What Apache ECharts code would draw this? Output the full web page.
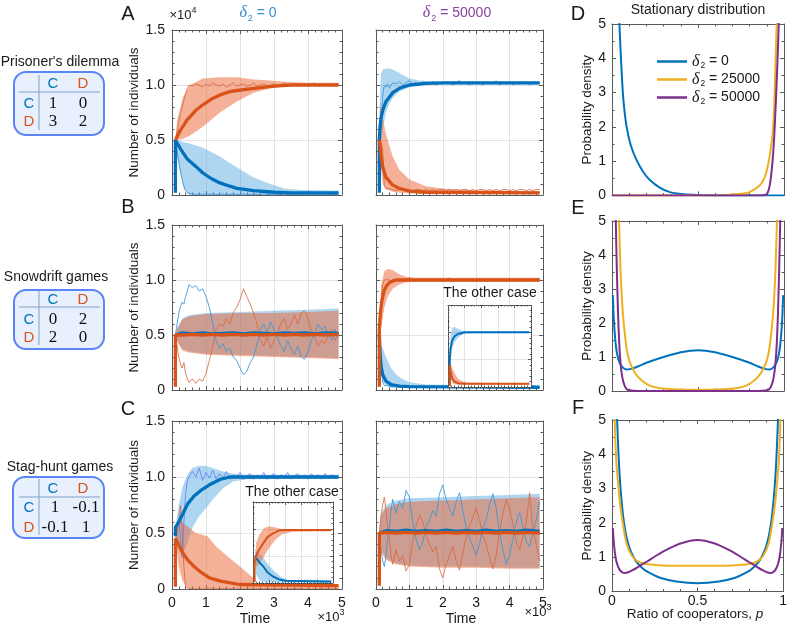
<!DOCTYPE html>
<html>
<head>
<meta charset="utf-8">
<script src="https://cdn.jsdelivr.net/npm/echarts@6/dist/echarts.min.js"></script>
<style>
  html, body { margin: 0; padding: 0; background: #fff; }
  #chart { width: 790px; height: 631px; }
</style>
</head>
<body>
<div id="chart"></div>
<script>
// ---- data (time in units of 10^3, counts in units of 10^4) ----
const runT = [0.1,0.15,0.2,0.25,0.3,0.35,0.4,0.45,0.5,
  0.6,0.7,0.8,0.9,1.0,1.1,1.2,1.3,1.4,1.5,1.6,
  1.7,1.8,1.9,2.0,2.1,2.2,2.3,2.4,2.5,2.6,2.7,
  2.8,2.9,3.0,3.1,3.2,3.3,3.4,3.5,3.6,3.7,3.8,
  3.9,4.0,4.1,4.2,4.3,4.4,4.5,4.6,4.7,4.8,4.9];

// A: prisoner's dilemma, delta2 = 0
const aCoopMean = [[0.1,0.02],[0.1,0.5],[0.25,0.42],[0.44,0.33],[0.7,0.26],[0.91,0.2],[1.15,0.15],[1.41,0.11],[1.7,0.08],[1.91,0.06],[2.4,0.04],[3.0,0.025],[3.5,0.02],[4.9,0.02]];
const aDefMean = [[0.1,0.5],[0.25,0.59],[0.44,0.68],[0.7,0.77],[0.91,0.82],[1.15,0.87],[1.41,0.91],[1.7,0.94],[1.91,0.95],[2.4,0.97],[3.0,0.99],[3.5,1.0],[4.9,1.0]];
const aCoopBand = [[0.1,0.5,0.5],[0.15,0.35,0.5],[0.25,0.18,0.49],[0.35,0.06,0.48],[0.5,0,0.47],[0.91,0,0.43],[1.41,0,0.35],[1.91,0,0.25],[2.4,0,0.16],[2.9,0,0.1],[3.3,0,0.06],[3.8,0,0.045],[4.9,0,0.04]];
const aDefBand = [[0.1,0.5,0.5],[0.15,0.5,0.68],[0.32,0.51,0.89],[0.53,0.54,1.0],[0.91,0.62,1.06],[1.41,0.75,1.07],[1.91,0.85,1.07],[2.4,0.93,1.05],[2.9,0.97,1.04],[3.3,0.99,1.03],[4.0,0.99,1.02],[4.9,0.99,1.02]];
const aCoopRun = [0.5,0.4,0.3,0.22,0.14,0.08,0.04,0.02,0.01,
  0.01,0.005,0.01,0.005,0.01,0.005,0.01,0.005,0.005,0.01,0.005,
  0.005,0.01,0.005,0.005,0.01,0.005,0.005,0.01,0.005,0.005,0.01,
  0.005,0.005,0.01,0.005,0.005,0.01,0.005,0.005,0.01,0.005,0.005,
  0.01,0.005,0.005,0.01,0.005,0.005,0.01,0.005,0.005,0.01,0.005];
const aDefRun = [0.5,0.58,0.66,0.74,0.8,0.86,0.92,0.97,1.0,
  0.99,1.01,1.0,0.98,1.01,0.99,1.02,1.0,0.99,1.01,0.98,
  1.0,1.02,0.99,1.0,1.01,0.99,1.0,1.02,0.99,1.0,1.01,
  0.99,1.0,1.01,0.99,1.0,1.02,0.99,1.0,1.01,0.99,1.0,
  1.01,0.99,1.0,1.02,0.99,1.0,1.01,0.99,1.0,1.01,1.0];

// A: prisoner's dilemma, delta2 = 50000
const aRCoopMean = [[0.1,0.02],[0.1,0.5],[0.12,0.62],[0.15,0.7],[0.2,0.77],[0.3,0.85],[0.5,0.93],[0.7,0.97],[1.0,1.0],[1.5,1.015],[2.0,1.02],[4.9,1.02]];
const aRDefMean = [[0.1,0.5],[0.12,0.45],[0.15,0.36],[0.2,0.26],[0.3,0.16],[0.5,0.09],[0.7,0.06],[1.0,0.036],[1.5,0.025],[4.9,0.02]];
const aRCoopBand = [[0.1,0.5,0.5],[0.12,0.45,0.95],[0.15,0.47,1.1],[0.2,0.6,1.14],[0.3,0.75,1.15],[0.4,0.83,1.15],[0.5,0.88,1.14],[0.7,0.94,1.11],[1.0,0.98,1.06],[1.3,1.0,1.04],[2.0,1.005,1.03],[4.9,1.005,1.03]];
const aRDefBand = [[0.1,0.5,0.5],[0.12,0.3,0.85],[0.2,0.1,0.7],[0.3,0.05,0.55],[0.5,0.03,0.35],[0.7,0.02,0.23],[1.0,0.015,0.14],[1.5,0.01,0.08],[2.0,0.01,0.06],[3.0,0.01,0.04],[4.9,0.01,0.035]];
const aRCoopRun = [0.5,0.6,0.9,1.0,0.98,1.01,0.97,1.0,1.02,
  1.01,1.03,1.0,1.02,1.04,1.01,1.02,1.0,1.03,1.02,1.01,
  1.03,1.0,1.02,1.01,1.03,1.02,1.0,1.02,1.04,1.01,1.02,
  1.0,1.03,1.01,1.02,1.0,1.03,1.02,1.01,1.04,1.0,1.02,
  1.01,1.03,1.0,1.02,1.01,1.03,1.02,1.0,1.02,1.01,1.02];
const aRDefRun = [0.5,0.48,0.42,0.08,0.06,0.05,0.06,0.05,0.05,
  0.04,0.05,0.05,0.04,0.05,0.04,0.05,0.05,0.04,0.05,0.04,
  0.05,0.04,0.05,0.05,0.04,0.05,0.04,0.05,0.04,0.05,0.05,
  0.04,0.05,0.04,0.05,0.05,0.04,0.05,0.04,0.05,0.04,0.05,
  0.05,0.04,0.05,0.04,0.05,0.05,0.04,0.05,0.04,0.05,0.05];

// B: snowdrift, delta2 = 0
const bCoopMean = [[0.1,0.5],[0.3,0.52],[0.6,0.51],[0.9,0.52],[1.2,0.51],[1.5,0.515],[1.8,0.52],[2.1,0.51],[2.4,0.52],[2.7,0.515],[3.0,0.51],[3.3,0.52],[3.6,0.515],[3.9,0.52],[4.2,0.51],[4.5,0.52],[4.9,0.515]];
const bDefMean = [[0.1,0.03],[0.1,0.5],[0.3,0.5],[0.6,0.505],[0.9,0.5],[1.2,0.505],[1.5,0.5],[1.8,0.505],[2.1,0.5],[2.4,0.505],[2.7,0.5],[3.0,0.505],[3.3,0.5],[3.6,0.505],[3.9,0.5],[4.2,0.505],[4.5,0.5],[4.9,0.505]];
const bCoopBand = [[0.1,0.5,0.5],[0.15,0.45,0.56],[0.3,0.38,0.65],[0.5,0.35,0.68],[1.0,0.33,0.7],[2.0,0.32,0.71],[3.0,0.31,0.72],[4.0,0.3,0.73],[4.9,0.29,0.74]];
const bDefBand = [[0.1,0.5,0.5],[0.15,0.44,0.55],[0.3,0.36,0.64],[0.5,0.34,0.67],[1.0,0.32,0.69],[2.0,0.31,0.7],[3.0,0.3,0.7],[4.0,0.29,0.71],[4.9,0.28,0.72]];
const bCoopRun = [0.5,0.6,0.7,0.76,0.8,0.78,0.85,0.9,0.96,
  0.93,0.95,0.9,0.92,0.85,0.75,0.6,0.45,0.38,0.42,0.35,
  0.38,0.3,0.27,0.2,0.14,0.17,0.25,0.3,0.42,0.55,0.6,
  0.52,0.62,0.55,0.48,0.4,0.35,0.45,0.38,0.32,0.4,0.3,
  0.28,0.35,0.45,0.52,0.6,0.55,0.58,0.5,0.45,0.55,0.48];
const bDefRun = [0.5,0.4,0.3,0.24,0.2,0.25,0.15,0.1,0.07,
  0.1,0.06,0.1,0.08,0.15,0.27,0.4,0.55,0.6,0.58,0.65,
  0.6,0.7,0.75,0.82,0.92,0.85,0.78,0.7,0.6,0.45,0.4,
  0.48,0.38,0.45,0.52,0.6,0.65,0.55,0.6,0.68,0.6,0.7,
  0.72,0.65,0.55,0.48,0.4,0.45,0.42,0.5,0.55,0.45,0.52];

// B: snowdrift, delta2 = 50000
const bRDefMean = [[0.1,0.03],[0.1,0.55],[0.13,0.7],[0.17,0.8],[0.24,0.9],[0.32,0.95],[0.42,0.98],[0.6,1.0],[4.9,1.0]];
const bRCoopMean = [[0.1,0.5],[0.12,0.35],[0.15,0.22],[0.2,0.14],[0.3,0.08],[0.45,0.05],[0.7,0.035],[1.0,0.03],[4.9,0.025]];
const bRDefBand = [[0.1,0.5,0.5],[0.15,0.55,0.95],[0.25,0.75,1.08],[0.35,0.85,1.1],[0.5,0.92,1.09],[0.7,0.96,1.05],[0.9,0.98,1.03],[1.2,0.985,1.02],[4.9,0.985,1.02]];
const bRCoopBand = [[0.1,0.5,0.5],[0.12,0.2,0.42],[0.2,0.08,0.38],[0.3,0.04,0.3],[0.45,0.02,0.2],[0.6,0.02,0.14],[0.8,0.02,0.1],[1.0,0.02,0.07],[1.5,0.02,0.05],[4.9,0.015,0.035]];
const bRDefRun = [0.5,0.8,0.95,1.0,0.99,1.01,1.0,0.99,1.01,
  1.0,0.99,1.01,1.0,1.02,0.99,1.0,1.01,0.99,1.0,1.01,
  1.0,0.99,1.01,1.0,1.0,1.02,0.99,1.0,1.01,0.99,1.0,
  1.01,1.0,0.99,1.01,1.0,0.99,1.01,1.0,1.0,0.99,1.01,
  1.0,1.01,0.99,1.0,1.01,1.0,0.99,1.01,1.0,1.0,1.01];
const bRCoopRun = [0.5,0.2,0.07,0.04,0.03,0.04,0.03,0.03,0.04,
  0.03,0.03,0.04,0.03,0.03,0.04,0.03,0.03,0.04,0.03,0.03,
  0.04,0.03,0.03,0.04,0.03,0.03,0.04,0.03,0.03,0.04,0.03,
  0.03,0.04,0.03,0.03,0.04,0.03,0.03,0.04,0.03,0.03,0.04,
  0.03,0.03,0.04,0.03,0.03,0.04,0.03,0.03,0.04,0.03,0.03];

// B inset: the other case
const ibCoopMean = [[0.1,0.02],[0.1,0.5],[0.15,0.7],[0.25,0.85],[0.4,0.93],[0.6,0.97],[1.0,1.0],[4.9,1.0]];
const ibDefMean = [[0.1,0.02],[0.1,0.4],[0.15,0.3],[0.25,0.16],[0.4,0.1],[0.6,0.07],[1.0,0.06],[4.9,0.06]];
const ibCoopBand = [[0.1,0.5,0.5],[0.15,0.45,0.95],[0.25,0.7,1.08],[0.4,0.82,1.1],[0.6,0.9,1.06],[0.9,0.96,1.03],[1.2,0.98,1.02],[4.9,0.99,1.02]];
const ibDefBand = [[0.1,0.4,0.45],[0.15,0.15,0.45],[0.25,0.07,0.35],[0.4,0.05,0.25],[0.6,0.04,0.15],[0.9,0.04,0.1],[1.3,0.04,0.08],[4.9,0.04,0.07]];

// C: stag-hunt, delta2 = 0
const cCoopMean = [[0.1,0.47],[0.1,0.55],[0.2,0.6],[0.3,0.66],[0.46,0.76],[0.65,0.83],[0.85,0.88],[1.1,0.93],[1.43,0.98],[1.7,1.0],[4.9,1.0]];
const cDefMean = [[0.1,0.02],[0.1,0.45],[0.2,0.39],[0.3,0.33],[0.46,0.26],[0.65,0.2],[0.85,0.15],[1.1,0.1],[1.43,0.07],[2.0,0.04],[4.9,0.03]];
const cCoopBand = [[0.1,0.5,0.55],[0.2,0.35,0.75],[0.3,0.3,0.9],[0.45,0.4,1.02],[0.6,0.55,1.08],[0.8,0.65,1.1],[1.0,0.72,1.1],[1.2,0.8,1.08],[1.5,0.9,1.05],[1.8,0.96,1.03],[2.2,0.98,1.02],[4.9,0.985,1.02]];
const cDefBand = [[0.1,0.45,0.45],[0.2,0.2,0.62],[0.3,0.08,0.6],[0.4,0.03,0.57],[0.5,0.01,0.55],[0.7,0.01,0.5],[1.04,0.01,0.47],[1.3,0.01,0.38],[1.6,0.01,0.3],[2.0,0.01,0.2],[2.5,0.01,0.07],[3.0,0.01,0.035],[4.9,0.01,0.03]];
const cCoopRun = [0.5,0.58,0.62,0.45,0.28,0.6,0.85,0.97,0.98,
  1.05,1.0,1.08,0.97,1.04,0.99,1.06,0.98,1.03,0.99,1.05,
  0.98,1.02,1.0,1.04,0.98,1.01,1.03,0.98,1.02,0.99,1.04,
  0.98,1.01,1.03,0.98,1.02,1.0,1.04,0.98,1.01,1.03,0.99,
  1.02,0.98,1.03,1.0,1.02,0.98,1.03,1.0,1.02,0.99,1.01];
const cDefRun = [0.45,0.5,0.62,0.75,0.5,0.2,0.02,0.01,0.005,
  0.005,0.005,0.005,0.005,0.005,0.005,0.005,0.005,0.005,0.005,0.005,
  0.005,0.005,0.005,0.005,0.005,0.005,0.005,0.005,0.005,0.005,0.005,
  0.005,0.005,0.005,0.005,0.005,0.005,0.005,0.005,0.005,0.005,0.005,
  0.005,0.005,0.005,0.005,0.005,0.005,0.005,0.005,0.005,0.005,0.005];

// C inset: the other case
const icDefMean = [[0.1,0.02],[0.1,0.4],[0.2,0.5],[0.35,0.6],[0.63,0.73],[0.9,0.85],[1.25,0.92],[1.6,0.97],[2.0,0.98],[4.9,0.98]];
const icCoopMean = [[0.1,0.5],[0.2,0.48],[0.35,0.4],[0.63,0.31],[0.9,0.2],[1.25,0.12],[1.6,0.07],[2.0,0.04],[4.9,0.03]];
const icDefBand = [[0.1,0.4,0.4],[0.2,0.3,0.75],[0.4,0.35,0.9],[0.7,0.5,1.02],[1.0,0.65,1.05],[1.4,0.8,1.03],[1.8,0.9,1.0],[2.5,0.95,1.0],[4.9,0.96,1.0]];
const icCoopBand = [[0.1,0.5,0.5],[0.2,0.15,0.6],[0.4,0.05,0.55],[0.7,0.02,0.45],[1.0,0.01,0.32],[1.4,0.01,0.2],[1.8,0.01,0.1],[2.3,0.01,0.05],[4.9,0.01,0.04]];

// C: stag-hunt, delta2 = 50000
const cRCoopMean = [[0.1,0.5],[0.3,0.52],[0.6,0.515],[0.9,0.525],[1.2,0.515],[1.5,0.52],[1.8,0.515],[2.1,0.525],[2.4,0.515],[2.7,0.52],[3.0,0.515],[3.3,0.525],[3.6,0.515],[3.9,0.52],[4.2,0.515],[4.5,0.525],[4.9,0.515]];
const cRDefMean = [[0.1,0.03],[0.1,0.5],[0.3,0.505],[0.6,0.5],[0.9,0.505],[1.2,0.5],[1.5,0.505],[1.8,0.5],[2.1,0.505],[2.4,0.5],[2.7,0.505],[3.0,0.5],[3.3,0.505],[3.6,0.5],[3.9,0.505],[4.2,0.5],[4.5,0.505],[4.9,0.5]];
const cRCoopBand = [[0.1,0.5,0.5],[0.15,0.35,0.68],[0.3,0.28,0.75],[0.6,0.23,0.79],[1.0,0.21,0.81],[2.0,0.2,0.82],[3.0,0.2,0.83],[4.0,0.19,0.84],[4.9,0.19,0.85]];
const cRDefBand = [[0.1,0.5,0.5],[0.15,0.33,0.66],[0.3,0.26,0.72],[0.6,0.22,0.76],[1.0,0.2,0.78],[2.0,0.19,0.79],[3.0,0.19,0.8],[4.0,0.18,0.81],[4.9,0.18,0.82]];
const cRCoopRun = [0.5,0.35,0.25,0.2,0.3,0.45,0.55,0.7,0.8,
  0.68,0.78,0.72,0.88,0.82,0.6,0.45,0.35,0.42,0.55,0.62,
  0.7,0.65,0.85,0.93,0.8,0.72,0.65,0.78,0.86,0.7,0.55,
  0.45,0.38,0.3,0.4,0.55,0.62,0.75,0.85,0.72,0.5,0.35,
  0.22,0.3,0.45,0.6,0.68,0.55,0.42,0.38,0.5,0.62,0.78];
const cRDefRun = [0.5,0.65,0.75,0.82,0.7,0.55,0.45,0.3,0.22,
  0.35,0.25,0.3,0.16,0.22,0.42,0.56,0.66,0.6,0.48,0.4,
  0.33,0.38,0.18,0.1,0.22,0.3,0.38,0.25,0.17,0.32,0.47,
  0.57,0.64,0.72,0.62,0.47,0.4,0.28,0.18,0.3,0.52,0.67,
  0.8,0.72,0.57,0.42,0.35,0.47,0.6,0.86,0.52,0.4,0.25];

// D-F: stationary distributions [p, density]
const dBlue = [[0,15],[0.02,9],[0.035,6.2],[0.043,5],[0.055,3.7],[0.066,2.8],[0.085,2.0],[0.11,1.45],[0.143,1.03],[0.18,0.7],[0.22,0.45],[0.28,0.22],[0.34,0.09],[0.4,0.045],[0.47,0.02],[0.55,0.01],[0.7,0],[1,0]];
const dOrange = [[0,0],[0.5,0],[0.65,0.01],[0.75,0.05],[0.8,0.1],[0.86,0.3],[0.885,0.5],[0.905,0.84],[0.92,1.25],[0.934,1.81],[0.943,2.6],[0.95,3.75],[0.957,4.92],[0.965,6.5]];
const dPurple = [[0,0],[0.85,0],[0.88,0.01],[0.9,0.04],[0.912,0.18],[0.922,0.45],[0.934,1.03],[0.944,1.8],[0.953,2.78],[0.962,3.9],[0.969,4.92],[0.976,6.5]];
const eBlue = [[0.005,2.82],[0.01,2.15],[0.02,1.45],[0.03,1.08],[0.045,0.82],[0.065,0.68],[0.085,0.63],[0.11,0.65],[0.15,0.72],[0.2,0.83],[0.3,1.0],[0.4,1.14],[0.5,1.2],[0.6,1.14],[0.7,1.0],[0.8,0.83],[0.85,0.72],[0.89,0.65],[0.915,0.63],[0.935,0.68],[0.955,0.82],[0.97,1.08],[0.98,1.45],[0.99,2.15],[0.995,2.82]];
const eOrange = [[0.03,7],[0.041,5],[0.05,3.5],[0.06,2.5],[0.07,1.9],[0.085,1.25],[0.1,0.9],[0.124,0.62],[0.15,0.42],[0.18,0.28],[0.22,0.16],[0.28,0.08],[0.35,0.05],[0.5,0.035],[0.65,0.05],[0.72,0.08],[0.78,0.16],[0.82,0.28],[0.85,0.42],[0.876,0.62],[0.9,0.9],[0.915,1.25],[0.93,1.9],[0.94,2.5],[0.95,3.5],[0.959,5],[0.97,7]];
const ePurple = [[0.012,8],[0.022,5],[0.028,3.6],[0.035,2.3],[0.042,1.4],[0.05,0.8],[0.06,0.4],[0.072,0.17],[0.085,0.06],[0.1,0.02],[0.15,0],[0.85,0],[0.9,0.02],[0.915,0.06],[0.928,0.17],[0.94,0.4],[0.95,0.8],[0.958,1.4],[0.965,2.3],[0.972,3.6],[0.978,5],[0.988,8]];
const fBlue = [[0.02,7],[0.03,5],[0.04,3.8],[0.05,3.0],[0.065,2.2],[0.08,1.7],[0.1,1.3],[0.124,1.02],[0.15,0.82],[0.185,0.65],[0.22,0.54],[0.28,0.4],[0.376,0.29],[0.5,0.24],[0.624,0.29],[0.72,0.4],[0.78,0.54],[0.815,0.65],[0.85,0.82],[0.876,1.02],[0.9,1.3],[0.92,1.7],[0.935,2.2],[0.95,3.0],[0.96,3.8],[0.97,5],[0.98,7]];
const fOrange = [[0.008,7.5],[0.016,5],[0.025,3.8],[0.035,3.2],[0.046,2.6],[0.066,1.9],[0.085,1.4],[0.115,1.05],[0.15,0.88],[0.2,0.8],[0.3,0.76],[0.5,0.75],[0.7,0.76],[0.8,0.8],[0.85,0.88],[0.885,1.05],[0.915,1.4],[0.934,1.9],[0.954,2.6],[0.965,3.2],[0.975,3.8],[0.984,5],[0.992,7.5]];
const fPurple = [[0.005,1.85],[0.01,1.45],[0.02,1.02],[0.03,0.8],[0.045,0.63],[0.06,0.56],[0.075,0.54],[0.095,0.56],[0.12,0.62],[0.16,0.74],[0.2,0.86],[0.26,1.05],[0.32,1.22],[0.4,1.4],[0.5,1.5],[0.6,1.4],[0.68,1.22],[0.74,1.05],[0.8,0.86],[0.84,0.74],[0.88,0.62],[0.905,0.56],[0.925,0.54],[0.94,0.56],[0.955,0.63],[0.97,0.8],[0.98,1.02],[0.99,1.45],[0.995,1.85]];

// payoff tables
const pdPay = [["1","0"],["3","2"]];
const sdPay = [["0","2"],["2","0"]];
const shPay = [["1","-0.1"],["-0.1","1"]];
const legendNames = ["δ2 = 0", "δ2 = 25000", "δ2 = 50000"];

// ---- styling ----
const FONT = '"Liberation Sans", Arial, sans-serif';
const TXT = "#1a1a1a";
const BLUE = "#0072BD", ORANGE = "#D95319", YELLOW = "#EDB120", PURPLE = "#7E2F8E";
const BAND_B = "rgba(77,163,222,0.45)", BAND_O = "rgba(235,100,50,0.5)";
const THIN_B = "rgba(55,150,215,0.85)", THIN_O = "rgba(218,100,60,0.8)";
const AX = "#5a5a5a";

const grids = [], xAxis = [], yAxis = [], series = [];

function panel(box, o) {
  const gi = grids.length;
  const inset = !!o.inset;
  const g = { left: box[0], top: box[1], width: box[2], height: box[3] };
  if (inset) Object.assign(g, { show: true, backgroundColor: "#fff", borderWidth: 0, z: 3 });
  grids.push(g);
  const z = inset ? 4 : 0;
  const frame = { show: true, onZero: false, lineStyle: { color: inset ? "#333" : AX, width: 1, type: inset ? "dotted" : "solid" } };
  const tick = { show: true, inside: true, length: inset ? 3 : 4, lineStyle: { color: AX } };
  const minor = (n) => ({ show: true, splitNumber: n, length: inset ? 1.5 : 2.5, lineStyle: { color: AX } });
  const lab = { fontFamily: FONT, fontSize: 14, color: TXT };
  const split = { show: !!o.grid, lineStyle: { color: "#e3e3e3" } };

  const xi = xAxis.length;
  const xb = { gridIndex: gi, type: "value", min: o.x[0], max: o.x[1], interval: o.x[2], z,
    axisLine: frame, axisTick: tick, minorTick: minor(o.x[3]), minorSplitLine: { show: false } };
  xAxis.push(Object.assign({}, xb, { position: "bottom", splitLine: split,
    axisLabel: Object.assign({ show: !!o.xLab, margin: o.xMargin || 7, formatter: o.xFmt || ((v) => String(v)) }, lab) }));
  xAxis.push(Object.assign({}, xb, { position: "top", splitLine: { show: false }, axisLabel: { show: false } }));

  const yi = yAxis.length;
  const yb = { gridIndex: gi, type: "value", min: o.y[0], max: o.y[1], interval: o.y[2], z,
    axisLine: frame, axisTick: tick, minorTick: minor(o.y[3]), minorSplitLine: { show: false } };
  yAxis.push(Object.assign({}, yb, { position: "left", splitLine: split,
    name: o.yName || "", nameLocation: "middle", nameGap: o.nameGap || 30,
    nameTextStyle: { fontFamily: FONT, fontSize: 13.5, color: TXT },
    axisLabel: Object.assign({ show: !!o.yLab, margin: o.yMargin || 7, formatter: o.yFmt || ((v) => String(v)) }, lab) }));
  yAxis.push(Object.assign({}, yb, { position: "right", splitLine: { show: false }, axisLabel: { show: false } }));
  return { xi, yi, z: inset ? 5 : 2 };
}

function line(p, data, color, width, extra) {
  series.push(Object.assign({ type: "line", xAxisIndex: p.xi, yAxisIndex: p.yi, data,
    symbol: "none", silent: true, z: p.z, lineStyle: { color, width }, itemStyle: { color } }, extra || {}));
}
function run(p, vals, color) {
  line(p, runT.map((t, i) => [t, vals[i]]), color, 1);
}
function band(p, rows, color) {
  series.push({ type: "custom", xAxisIndex: p.xi, yAxisIndex: p.yi, data: rows, silent: true, z: p.z,
    encode: { x: 0, y: [1, 2] },
    renderItem: (params, api) => {
      if (params.dataIndex !== 0) return null;
      const up = rows.map((r) => api.coord([r[0], r[2]]));
      const lo = rows.slice().reverse().map((r) => api.coord([r[0], r[1]]));
      return { type: "polygon", shape: { points: up.concat(lo) }, style: { fill: color } };
    } });
}

const yFmtN = (v) => (v === 0 ? "0" : v.toFixed(1));
const tX = [0, 5, 1, 5], tY = [0, 1.5, 0.5, 5], pX = [0, 1, 0.5, 5], pY = [0, 5, 1, 2];

const pA1 = panel([172, 30, 170, 165], { x: tX, y: tY, grid: true, yLab: true, yFmt: yFmtN, yName: "Number of individuals" });
const pA2 = panel([376, 30, 167, 165], { x: tX, y: tY, grid: true });
const pD  = panel([612, 24, 172, 171.5], { x: pX, y: pY, yLab: true, yMargin: 6, yName: "Probability density", nameGap: 17 });
const pB1 = panel([172, 225, 170, 165], { x: tX, y: tY, grid: true, yLab: true, yFmt: yFmtN, yName: "Number of individuals" });
const pB2 = panel([376, 225, 167, 165], { x: tX, y: tY, grid: true });
const pE  = panel([612, 221, 172, 170], { x: pX, y: pY, yLab: true, yMargin: 6, yName: "Probability density", nameGap: 17 });
const pC1 = panel([172, 421, 170, 168], { x: tX, y: tY, grid: true, xLab: true, yLab: true, yFmt: yFmtN, yName: "Number of individuals" });
const pC2 = panel([376, 421, 167, 168], { x: tX, y: tY, grid: true, xLab: true });
const pF  = panel([612, 420, 172, 171.5], { x: pX, y: pY, xLab: true, xMargin: 3, yLab: true, yMargin: 6, yName: "Probability density", nameGap: 17 });
const pIB = panel([448, 305, 83, 82], { x: tX, y: tY, grid: true, inset: true });
const pIC = panel([253, 502, 80, 81], { x: tX, y: tY, grid: true, inset: true });

const W = 3.3;
// A
band(pA1, aCoopBand, BAND_B); band(pA1, aDefBand, BAND_O);
run(pA1, aCoopRun, THIN_B); run(pA1, aDefRun, THIN_O);
line(pA1, aCoopMean, BLUE, W); line(pA1, aDefMean, ORANGE, W);
band(pA2, aRCoopBand, BAND_B); band(pA2, aRDefBand, BAND_O);
run(pA2, aRCoopRun, THIN_B); run(pA2, aRDefRun, THIN_O);
line(pA2, aRCoopMean, BLUE, W); line(pA2, aRDefMean, ORANGE, W);
// B
band(pB1, bCoopBand, BAND_B); band(pB1, bDefBand, BAND_O);
run(pB1, bCoopRun, THIN_B); run(pB1, bDefRun, THIN_O);
line(pB1, bCoopMean, BLUE, W); line(pB1, bDefMean, ORANGE, W);
band(pB2, bRCoopBand, BAND_B); band(pB2, bRDefBand, BAND_O);
run(pB2, bRCoopRun, THIN_B); run(pB2, bRDefRun, THIN_O);
line(pB2, bRCoopMean, BLUE, W); line(pB2, bRDefMean, ORANGE, W);
band(pIB, ibCoopBand, BAND_B); band(pIB, ibDefBand, BAND_O);
line(pIB, ibCoopMean, BLUE, 2); line(pIB, ibDefMean, ORANGE, 2);
// C
band(pC1, cCoopBand, BAND_B); band(pC1, cDefBand, BAND_O);
run(pC1, cCoopRun, "rgba(90,130,250,0.85)"); run(pC1, cDefRun, THIN_O);
line(pC1, cCoopMean, BLUE, W); line(pC1, cDefMean, ORANGE, W);
band(pC2, cRCoopBand, BAND_B); band(pC2, cRDefBand, BAND_O);
run(pC2, cRCoopRun, THIN_B); run(pC2, cRDefRun, THIN_O);
line(pC2, cRCoopMean, BLUE, W); line(pC2, cRDefMean, ORANGE, W);
band(pIC, icCoopBand, BAND_B); band(pIC, icDefBand, BAND_O);
line(pIC, icCoopMean, BLUE, 2); line(pIC, icDefMean, ORANGE, 2);
// D-F
const sm = { smooth: 0.25 };
[[pD, dBlue, dOrange, dPurple], [pE, eBlue, eOrange, ePurple], [pF, fBlue, fOrange, fPurple]].forEach(([p, b, o, u]) => {
  line(p, b, BLUE, 2, Object.assign({ name: legendNames[0] }, sm));
  line(p, o, YELLOW, 2, Object.assign({ name: legendNames[1] }, sm));
  line(p, u, PURPLE, 2, Object.assign({ name: legendNames[2] }, sm));
});

// ---- annotations ----
const G = [];
function txt(x, y, text, size, color, st) {
  G.push({ type: "text", x, y, z: 20, silent: true,
    style: Object.assign({ text, fontSize: size, fontFamily: FONT, fill: color || TXT, align: "center", verticalAlign: "middle" }, st || {}) });
}
function deltaRich(c) {
  return {
    d: { fontFamily: '"Liberation Serif", serif', fontStyle: "italic", fontSize: 16, fill: c, color: c },
    s: { fontFamily: FONT, fontSize: 9, fill: c, color: c, padding: [11, 0, 0, 1] },
    n: { fontFamily: FONT, fontSize: 14, fill: c, color: c }
  };
}
const supRich = { u: { fontFamily: FONT, fontSize: 9, fill: TXT, padding: [0, 0, 8, 0] } };

["A", "B", "C"].forEach((s, i) => txt(128, [14, 207, 409][i], s, 20));
["D", "E", "F"].forEach((s, i) => txt(578, [14, 208, 408][i], s, 20));
txt(258, 13, "{d|δ}{s|2}{n| = 0}", 14, "#338fd6", { rich: deltaRich("#338fd6") });
txt(457, 13, "{d|δ}{s|2}{n| = 50000}", 14, "#8c3fa2", { rich: deltaRich("#8c3fa2") });
txt(698, 10, "Stationary distribution", 14);
txt(183, 15, "×10{u|4}", 13, TXT, { rich: supRich });
txt(255, 619, "Time", 14);
txt(331, 617, "×10{u|3}", 13, TXT, { rich: supRich });
txt(461, 619, "Time", 14);
txt(538, 612, "×10{u|3}", 13, TXT, { rich: supRich });
txt(695, 614, "Ratio of cooperators, {i|p}", 13.5, TXT,
  { rich: { i: { fontFamily: FONT, fontStyle: "italic", fontSize: 13.5, fill: TXT } } });
txt(490, 293, "The other case", 14);
txt(292, 492, "The other case", 14);

function table(t, pay) {
  G.push({ type: "rect", z: 10, silent: true, shape: { x: t.x, y: t.y, width: t.w, height: t.h, r: 12 },
    style: { fill: "#e8f0fd", stroke: "#5b85f5", lineWidth: 2 } });
  G.push({ type: "line", z: 11, silent: true, shape: { x1: 19, y1: t.hY, x2: 100, y2: t.hY }, style: { stroke: "#7f9fc6", lineWidth: 1 } });
  G.push({ type: "line", z: 11, silent: true, shape: { x1: 39, y1: t.vTop, x2: 39, y2: t.vBot }, style: { stroke: "#7f9fc6", lineWidth: 1 } });
  txt(t.tx, t.tY, t.title, 14);
  txt(53, t.headY, "C", 15, BLUE);
  txt(83, t.headY, "D", 15, ORANGE);
  txt(29, t.rows[0], "C", 15, BLUE);
  txt(29, t.rows[1], "D", 15, ORANGE);
  const serif = { fontFamily: '"Liberation Serif", "Times New Roman", serif' };
  pay.forEach((row, i) => row.forEach((v, j) => txt(t.cols[j], t.rows[i], v, 17, "#111", serif)));
}
table({ x: 14, y: 72, w: 90, h: 63, hY: 92, vTop: 75, vBot: 130, tx: 60, tY: 62, title: "Prisoner's dilemma", headY: 84, rows: [104, 122], cols: [53, 83] }, pdPay);
table({ x: 14, y: 290, w: 90, h: 59, hY: 307, vTop: 291, vBot: 345, tx: 56, tY: 277, title: "Snowdrift games", headY: 300, rows: [320, 338], cols: [53, 83] }, sdPay);
table({ x: 13, y: 477, w: 91, h: 61, hY: 497, vTop: 479, vBot: 535, tx: 60, tY: 467, title: "Stag-hunt games", headY: 489, rows: [508, 528], cols: [55, 86] }, shPay);

const chart = echarts.init(document.getElementById("chart"), null, { renderer: "canvas" });
chart.setOption({
  animation: false,
  backgroundColor: "#fff",
  grid: grids,
  xAxis,
  yAxis,
  series,
  legend: {
    data: legendNames,
    orient: "vertical",
    left: 657,
    top: 53,
    icon: "rect",
    itemWidth: 30,
    itemHeight: 2.5,
    itemGap: 1,
    padding: 0,
    selectedMode: false,
    formatter: (n) => "{d|δ}{s|2}{n| = " + n.split("= ")[1] + "}",
    textStyle: {
      color: TXT,
      rich: {
        d: { fontFamily: '"Liberation Serif", serif', fontStyle: "italic", fontSize: 16, color: TXT, lineHeight: 15 },
        s: { fontFamily: FONT, fontSize: 8.5, color: TXT, padding: [8, 0, 0, 1], lineHeight: 9 },
        n: { fontFamily: FONT, fontSize: 14, color: TXT, lineHeight: 15 }
      }
    }
  },
  graphic: G
});
</script>
</body>
</html>
